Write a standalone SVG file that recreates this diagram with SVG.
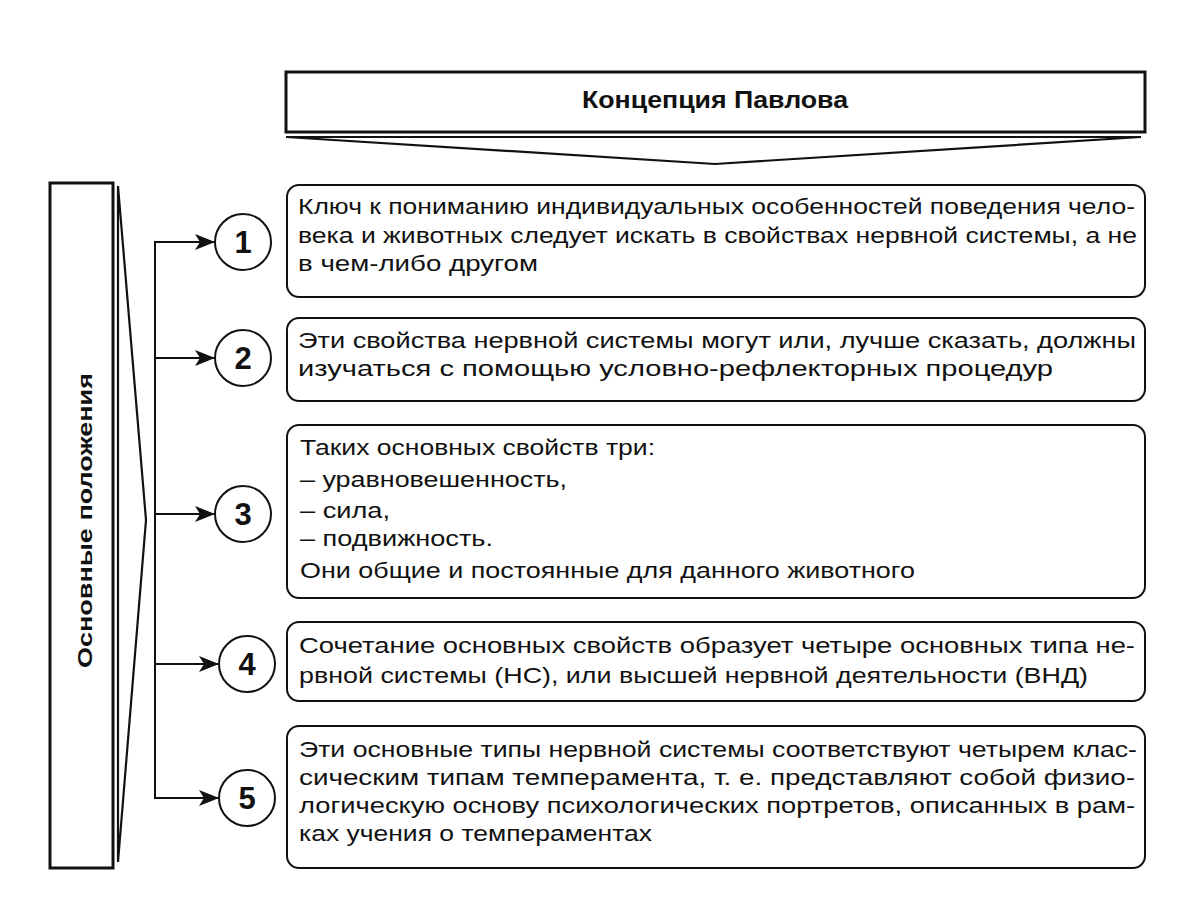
<svg xmlns="http://www.w3.org/2000/svg" width="1191" height="921" viewBox="0 0 1191 921">
<defs>
<style>
.frame{fill:#fff;stroke:#111;stroke-width:3}
.chev{fill:#fff;stroke:#111;stroke-width:2.2;stroke-linejoin:miter}
.box{fill:#fff;stroke:#111;stroke-width:2}
.circ{fill:#fff;stroke:#111;stroke-width:2}
.conn{fill:none;stroke:#111;stroke-width:2}
.t{font-family:"Liberation Sans",Arial,sans-serif;font-size:22px;fill:#111}
.b{font-family:"Liberation Sans",Arial,sans-serif;font-weight:bold;fill:#111}
.num{font-family:"Liberation Sans",Arial,sans-serif;font-weight:bold;font-size:31px;fill:#111;text-anchor:middle}
</style>
<marker id="arr" viewBox="0 0 20 16" refX="20" refY="8" markerWidth="20" markerHeight="16" markerUnits="userSpaceOnUse" orient="auto">
<path d="M0,0 L20,8 L0,16 L5,8 Z" fill="#111"/>
</marker>
</defs>
<rect width="1191" height="921" fill="#fff"/>

<g id="title">
<rect class="frame" x="286" y="72" width="859" height="60"/>
<polygon class="chev" points="286,137 1141,137 715,164"/>
<text class="b" x="582" y="108" font-size="24" textLength="266" lengthAdjust="spacingAndGlyphs">Концепция Павлова</text>
</g>

<g id="side">
<rect class="frame" x="50" y="183" width="63" height="685"/>
<polygon class="chev" points="118,186 146,520 118,862"/>
<text class="b" font-size="21" transform="translate(92,668) rotate(-90)" x="0" y="0" textLength="295" lengthAdjust="spacingAndGlyphs">Основные положения</text>
</g>

<g id="connectors">
<line class="conn" x1="155" y1="241" x2="155" y2="799"/>
<line class="conn" x1="155" y1="242" x2="215" y2="242" marker-end="url(#arr)"/>
<line class="conn" x1="155" y1="358" x2="215" y2="358" marker-end="url(#arr)"/>
<line class="conn" x1="155" y1="514" x2="215" y2="514" marker-end="url(#arr)"/>
<line class="conn" x1="155" y1="664" x2="219" y2="664" marker-end="url(#arr)"/>
<line class="conn" x1="155" y1="798" x2="219" y2="798" marker-end="url(#arr)"/>
</g>

<g id="n1">
<circle class="circ" cx="243" cy="242" r="28"/>
<text class="num" x="243" y="253">1</text>
</g>
<g id="n2">
<circle class="circ" cx="243" cy="358" r="28"/>
<text class="num" x="243" y="369">2</text>
</g>
<g id="n3">
<circle class="circ" cx="243" cy="514" r="28"/>
<text class="num" x="243" y="525">3</text>
</g>
<g id="n4">
<circle class="circ" cx="247" cy="664" r="28"/>
<text class="num" x="247" y="675">4</text>
</g>
<g id="n5">
<circle class="circ" cx="247" cy="798" r="28"/>
<text class="num" x="247" y="809">5</text>
</g>

<g id="box1">
<rect class="box" x="287" y="185" width="858" height="112" rx="12"/>
<text class="t" x="298" y="214" textLength="837" lengthAdjust="spacingAndGlyphs">Ключ к пониманию индивидуальных особенностей поведения чело-</text>
<text class="t" x="298" y="243" textLength="839" lengthAdjust="spacingAndGlyphs">века и животных следует искать в свойствах нервной системы, а не</text>
<text class="t" x="298" y="271" textLength="240" lengthAdjust="spacingAndGlyphs">в чем-либо другом</text>
</g>

<g id="box2">
<rect class="box" x="287" y="318" width="858" height="83" rx="12"/>
<text class="t" x="298" y="348" textLength="838" lengthAdjust="spacingAndGlyphs">Эти свойства нервной системы могут или, лучше сказать, должны</text>
<text class="t" x="298" y="376" textLength="755" lengthAdjust="spacingAndGlyphs">изучаться с помощью условно-рефлекторных процедур</text>
</g>

<g id="box3">
<rect class="box" x="287" y="425" width="858" height="173" rx="12"/>
<text class="t" x="300" y="455" textLength="355" lengthAdjust="spacingAndGlyphs">Таких основных свойств три:</text>
<text class="t" x="300" y="487" textLength="267" lengthAdjust="spacingAndGlyphs">– уравновешенность,</text>
<text class="t" x="300" y="518" textLength="90" lengthAdjust="spacingAndGlyphs">– сила,</text>
<text class="t" x="300" y="546" textLength="193" lengthAdjust="spacingAndGlyphs">– подвижность.</text>
<text class="t" x="300" y="578" textLength="615" lengthAdjust="spacingAndGlyphs">Они общие и постоянные для данного животного</text>
</g>

<g id="box4">
<rect class="box" x="287" y="622" width="858" height="79" rx="12"/>
<text class="t" x="299" y="653" textLength="836" lengthAdjust="spacingAndGlyphs">Сочетание основных свойств образует четыре основных типа не-</text>
<text class="t" x="299" y="683" textLength="789" lengthAdjust="spacingAndGlyphs">рвной системы (НС), или высшей нервной деятельности (ВНД)</text>
</g>

<g id="box5">
<rect class="box" x="287" y="726" width="858" height="142" rx="12"/>
<text class="t" x="299" y="757" textLength="838" lengthAdjust="spacingAndGlyphs">Эти основные типы нервной системы соответствуют четырем клас-</text>
<text class="t" x="299" y="785" textLength="836" lengthAdjust="spacingAndGlyphs">сическим типам темперамента, т. е. представляют собой физио-</text>
<text class="t" x="299" y="813" textLength="836" lengthAdjust="spacingAndGlyphs">логическую основу психологических портретов, описанных в рам-</text>
<text class="t" x="299" y="841" textLength="353" lengthAdjust="spacingAndGlyphs">ках учения о темпераментах</text>
</g>
</svg>
